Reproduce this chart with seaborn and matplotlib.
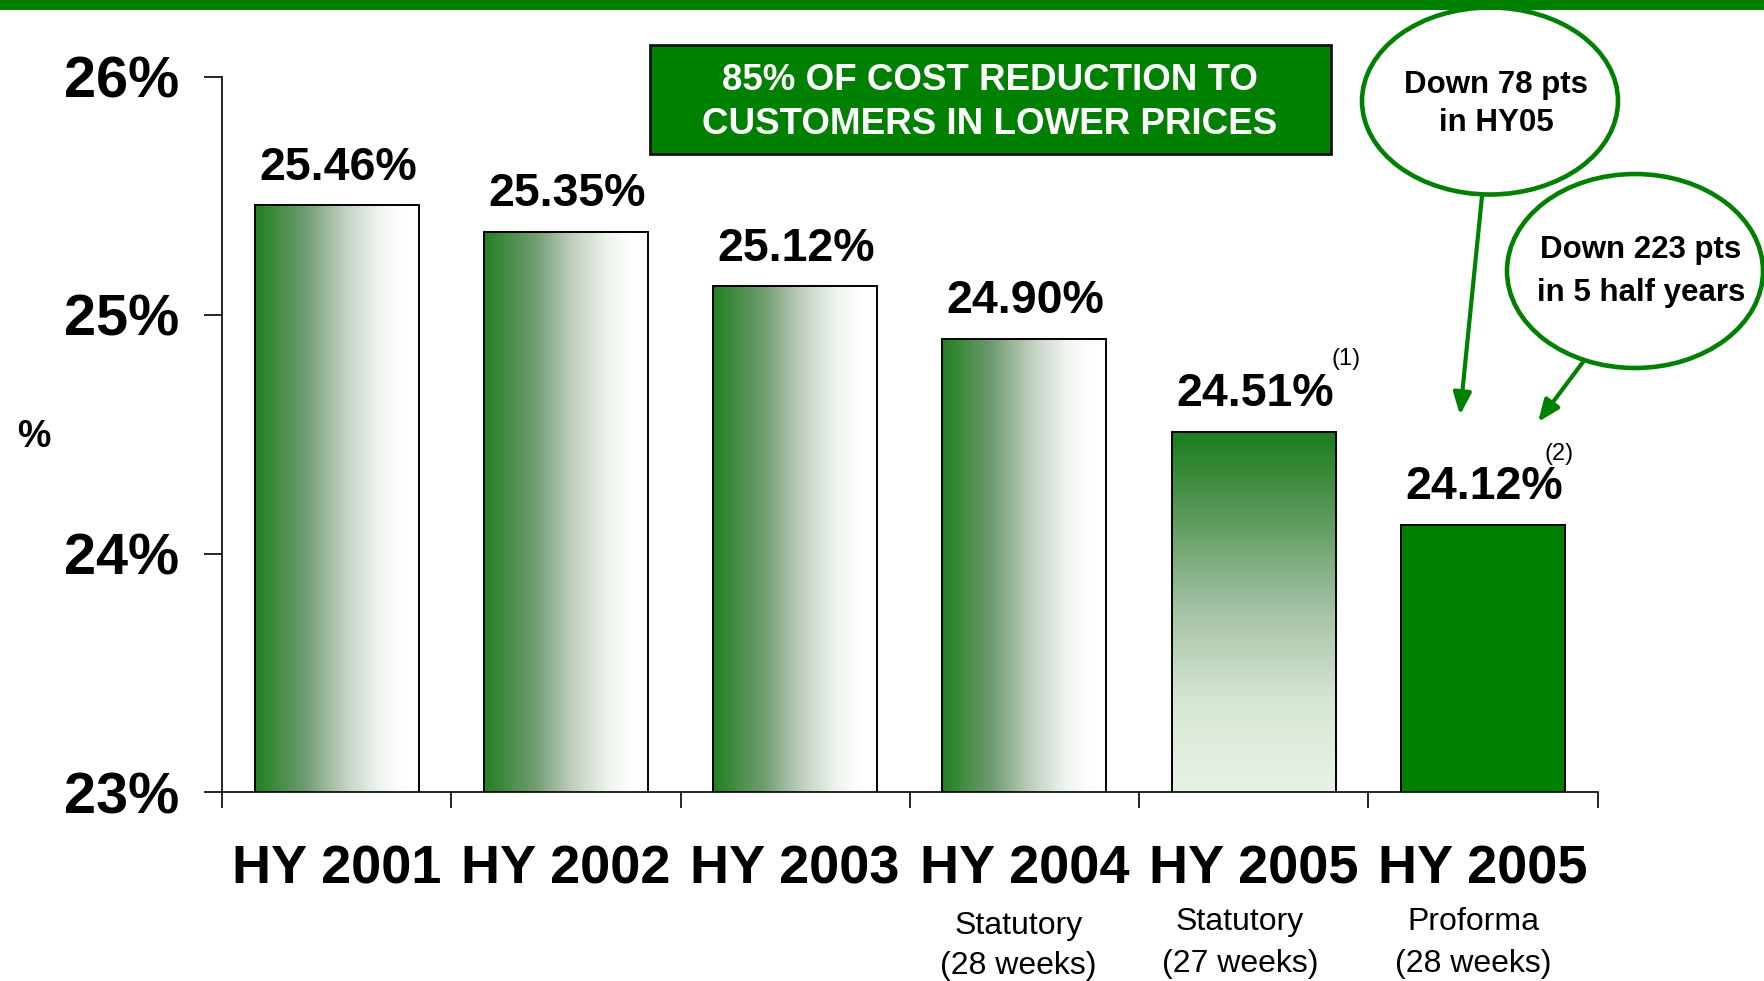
import numpy as np
import pandas as pd
import matplotlib
matplotlib.use("Agg")
import matplotlib.pyplot as plt
from matplotlib.patches import Rectangle, Ellipse, FancyArrowPatch
from matplotlib.ticker import FixedLocator
import seaborn as sns

# ---- data ----
periods = ["HY 2001", "HY 2002", "HY 2003", "HY 2004", "HY 2005 Stat", "HY 2005 Pro"]
period_labels = ["HY 2001", "HY 2002", "HY 2003", "HY 2004", "HY 2005", "HY 2005"]
cost_pct = [25.46, 25.35, 25.12, 24.90, 24.51, 24.12]
basis_line1 = ["", "", "", "Statutory", "Statutory", "Proforma"]
basis_line2 = ["", "", "", "(28 weeks)", "(27 weeks)", "(28 weeks)"]
footnotes = ["", "", "", "", "(1)", "(2)"]
y_ticks = [23, 24, 25, 26]
headline = ["85% OF COST REDUCTION TO", "CUSTOMERS IN LOWER PRICES"]
callout_hy05 = ["Down 78 pts", "in HY05"]
callout_5hy = ["Down 223 pts", "in 5 half years"]

GREEN = "#008000"

sns.set_theme(style="white")
plt.rcParams["font.family"] = ["Liberation Sans", "DejaVu Sans"]
plt.rcParams["text.color"] = "black"
plt.rcParams["axes.labelcolor"] = "black"
plt.rcParams["xtick.color"] = "black"
plt.rcParams["ytick.color"] = "black"

W, H = 1764, 981
fig = plt.figure(figsize=(W / 100, H / 100), dpi=100)
fig.patch.set_facecolor("white")

def fx(px):
    return px / W

def fy(py):
    return 1 - py / H

ax = fig.add_axes([fx(222), fy(792), fx(1597.5) - fx(222), fy(76.5) - fy(792)])

df = pd.DataFrame({"period": periods, "pct": cost_pct})
sns.barplot(data=df, x="period", y="pct", order=periods, color=GREEN,
            saturation=1, width=0.716, edgecolor="black", linewidth=1.4, ax=ax)

ax.set_xlim(-0.5, 5.5)
ax.set_ylim(23, 26)

# gradient fills clipped to each bar
def ramp(stops, n=256):
    t = np.linspace(0, 1, n)
    pos = [s[0] for s in stops]
    cols = np.array([s[1] for s in stops], dtype=float) / 255.0
    return np.stack([np.interp(t, pos, cols[:, k]) for k in range(3)], axis=-1)

horiz = ramp([(0.0, (34, 128, 34)), (0.3, (110, 155, 110)), (0.55, (195, 210, 195)),
              (0.75, (238, 244, 238)), (0.9, (255, 255, 255)), (1.0, (255, 255, 255))])
vert = ramp([(0.0, (25, 125, 25)), (0.25, (95, 155, 95)), (0.5, (165, 195, 165)),
             (0.75, (215, 230, 212)), (1.0, (232, 243, 230))])

y0 = ax.get_ylim()[0]
for i, patch in enumerate(ax.patches):
    x, w, top = patch.get_x(), patch.get_width(), patch.get_y() + patch.get_height()
    if i < 4:
        img = horiz[np.newaxis, :, :]
    elif i == 4:
        img = vert[:, np.newaxis, :]
    else:
        continue
    patch.set_facecolor("none")
    patch.set_zorder(3)
    im = ax.imshow(img, extent=[x, x + w, y0, top], aspect="auto",
                   interpolation="bicubic", zorder=2, origin="upper")
    im.set_clip_path(patch)

ax.set_xlim(-0.5, 5.5)
ax.set_ylim(23, 26)

# value labels
for i, patch in enumerate(ax.patches):
    cx = patch.get_x() + patch.get_width() / 2
    top = patch.get_y() + patch.get_height()
    ax.annotate(f"{cost_pct[i]:.2f}%", (cx, top), xytext=(1, 18.5),
                textcoords="offset points", ha="center", va="baseline",
                fontsize=33.5, fontweight="bold", color="black", zorder=5)

# axes styling
for side in ["top", "right"]:
    ax.spines[side].set_visible(False)
for side in ["left", "bottom"]:
    ax.spines[side].set_color("black")
    ax.spines[side].set_linewidth(1.2)

ax.set_yticks(y_ticks)
ax.set_yticklabels([f"{v}%" for v in y_ticks], fontsize=41.5, fontweight="bold",
                   color="black")
ax.tick_params(axis="y", direction="out", length=13, width=1.2, color="black",
               pad=18, left=True)

ax.set_xticks(range(len(periods)))
ax.set_xticklabels(period_labels, fontsize=39, fontweight="bold", color="black")
ax.xaxis.set_minor_locator(FixedLocator(np.arange(-0.5, len(periods), 1.0)))
ax.tick_params(axis="x", which="major", length=0, pad=38)
ax.tick_params(axis="x", which="minor", direction="out", length=11.5, width=1.2,
               color="black", bottom=True)
ax.set_xlabel("")
ax.set_ylabel("")
ax.grid(False)

# reporting basis under the period labels
xt = ax.get_xaxis_transform()
basis_shift = [0, 0, 0, -0.025, -0.06, -0.04]
for i in range(len(periods)):
    if basis_line1[i]:
        dy = 0.006 if i == 3 else 0.0
        ax.text(i + basis_shift[i], -0.181 - dy, basis_line1[i], transform=xt,
                ha="center", va="center", fontsize=23, color="black", clip_on=False)
        ax.text(i + basis_shift[i], -0.240 - dy / 2, basis_line2[i], transform=xt,
                ha="center", va="center", fontsize=23, color="black", clip_on=False)

# footnote markers
fig.text(fx(1346), fy(359), footnotes[4], ha="center", va="center", fontsize=17)
fig.text(fx(1559), fy(454), footnotes[5], ha="center", va="center", fontsize=17)

# axis unit
fig.text(fx(34), fy(437), "%", ha="center", va="center", fontsize=27, fontweight="bold")

# top rule
fig.patches.append(Rectangle((0, fy(10)), 1, fy(0) - fy(10), transform=fig.transFigure,
                             facecolor=GREEN, edgecolor="none", zorder=10))

# headline box
fig.patches.append(Rectangle((fx(650), fy(154)), fx(1331) - fx(650), fy(45) - fy(154),
                             transform=fig.transFigure, facecolor=GREEN,
                             edgecolor="#151515", linewidth=2, zorder=4))
fig.text(fx(990), fy(81), headline[0], ha="center", va="center", fontsize=26.5,
         fontweight="bold", color="white", zorder=6)
fig.text(fx(990), fy(124), headline[1], ha="center", va="center", fontsize=26.5,
         fontweight="bold", color="white", zorder=6)

# call-out bubbles
for (cx, cy, ew, eh) in [(1490, 101, 256, 187), (1635, 271, 256, 194)]:
    fig.patches.append(Ellipse((fx(cx), fy(cy)), ew / W, eh / H, transform=fig.transFigure,
                               facecolor="white", edgecolor=GREEN, linewidth=3.3, zorder=7))

fig.text(fx(1496), fy(85), callout_hy05[0], ha="center", va="center", fontsize=22.5,
         fontweight="bold", zorder=9)
fig.text(fx(1496), fy(123), callout_hy05[1], ha="center", va="center", fontsize=22.5,
         fontweight="bold", zorder=9)
fig.text(fx(1641), fy(250), callout_5hy[0], ha="center", va="center", fontsize=22.5,
         fontweight="bold", zorder=9)
fig.text(fx(1641), fy(293), callout_5hy[1], ha="center", va="center", fontsize=22.5,
         fontweight="bold", zorder=9)

for (x0, y0_, x1, y1) in [(1482, 196, 1460, 415), (1583, 362, 1538, 422)]:
    arr = FancyArrowPatch((fx(x0), fy(y0_)), (fx(x1), fy(y1)), transform=fig.transFigure,
                          arrowstyle="-|>,head_length=1.1,head_width=0.45",
                          mutation_scale=12, color=GREEN, linewidth=3, zorder=8,
                          shrinkA=0, shrinkB=0)
    fig.patches.append(arr)

fig.savefig("out.png", dpi=100, facecolor="white")
